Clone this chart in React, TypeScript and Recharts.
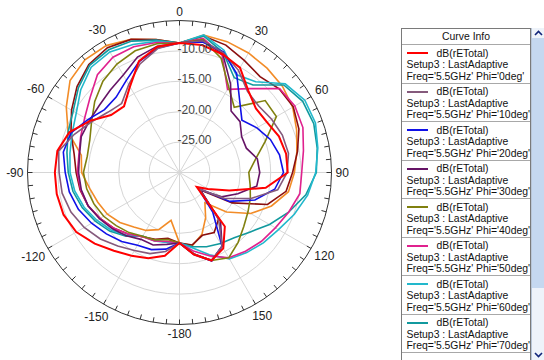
import { RadarChart, Radar, PolarGrid, PolarAngleAxis, PolarRadiusAxis } from "recharts";

// theta sweep (deg, clockwise from top), 10 deg steps
const thetaDeg = [
  0, 10, 20, 30, 40, 50, 60, 70, 80, 90, 100, 110, 120, 130, 140, 150, 160, 170,
  180, 190, 200, 210, 220, 230, 240, 250, 260, 270, 280, 290, 300, 310, 320, 330, 340, 350,
];

// dB(rETotal) per Phi cut
const phi0 = [
  -8.7, -8.7, -9.3, -10.1, -12.4, -13.6, -13.4, -12.6, -12.2, -12.2, -15.6, -21.3, -24.6, -26.3, -18.4, -15.6, -14.6, -16.3,
  -18.4, -16.1, -15.0, -14.2, -13.2, -11.8, -10.4, -9.7, -9.5, -9.5, -9.6, -10.7, -13.0, -15.3, -15.8, -13.7, -10.5, -9.0,
];
const phi10 = [
  -8.7, -8.0, -9.0, -10.6, -12.6, -13.0, -12.5, -12.0, -11.8, -12.3, -13.6, -17.5, -21.5, -25.8, -20.0, -16.0, -14.6, -16.4,
  -18.4, -16.8, -15.8, -15.2, -14.2, -13.0, -11.9, -11.0, -10.4, -10.2, -9.8, -11.6, -13.3, -14.6, -15.2, -13.3, -11.0, -9.3,
];
const phi20 = [
  -8.7, -8.2, -8.9, -11.2, -14.6, -16.6, -15.3, -14.1, -13.3, -12.9, -14.1, -16.8, -20.5, -26.0, -21.5, -16.0, -14.5, -16.3,
  -18.4, -17.2, -16.5, -16.2, -15.2, -14.3, -13.3, -12.3, -11.6, -11.2, -10.6, -11.0, -12.6, -13.9, -13.8, -12.5, -10.6, -9.2,
];
const phi30 = [
  -8.7, -8.0, -9.2, -13.2, -16.8, -17.0, -18.2, -18.3, -17.0, -16.8, -17.1, -19.8, -22.0, -25.5, -19.5, -16.0, -14.6, -16.4,
  -18.4, -18.0, -17.3, -17.3, -16.4, -15.6, -14.8, -14.0, -13.6, -13.4, -13.3, -12.8, -12.9, -12.8, -12.3, -11.5, -9.8, -8.9,
];
const phi40 = [
  -8.7, -7.8, -10.0, -13.8, -16.0, -11.6, -11.6, -15.0, -17.3, -18.6, -18.2, -17.6, -17.0, -16.2, -15.0, -13.8, -14.6, -16.4,
  -18.4, -18.8, -18.2, -17.9, -17.1, -16.4, -15.6, -15.0, -14.5, -14.2, -14.6, -14.3, -13.3, -11.8, -10.4, -9.4, -8.7, -8.5,
];
const phi50 = [
  -8.7, -7.6, -9.5, -14.2, -12.0, -8.5, -8.1, -8.4, -9.3, -9.9, -9.9, -10.9, -11.8, -12.4, -13.1, -13.8, -15.4, -16.9,
  -18.4, -18.5, -18.0, -17.8, -16.8, -15.8, -14.9, -14.0, -13.5, -13.2, -13.2, -12.7, -12.0, -10.8, -9.0, -8.1, -8.0, -8.3,
];
const phi60 = [
  -8.7, -7.0, -8.6, -11.4, -10.5, -7.3, -6.2, -6.2, -6.9, -7.6, -8.6, -9.9, -11.2, -12.0, -12.8, -13.6, -15.6, -17.4,
  -18.4, -18.3, -18.0, -17.9, -16.5, -15.3, -14.3, -13.3, -12.5, -12.0, -11.7, -11.2, -10.4, -8.8, -7.4, -7.1, -7.6, -8.1,
];
const phi70 = [
  -8.7, -7.2, -9.0, -12.0, -11.2, -7.6, -6.6, -6.5, -7.0, -7.5, -8.9, -10.9, -12.9, -14.8, -16.0, -16.5, -17.0, -17.6,
  -18.4, -18.4, -18.1, -17.9, -16.3, -15.0, -14.0, -13.0, -12.2, -11.7, -11.2, -10.5, -9.8, -8.3, -7.0, -6.7, -7.0, -7.9,
];
const phi80 = [
  -8.7, -7.2, -7.7, -8.7, -9.4, -8.6, -8.4, -9.1, -10.3, -11.4, -12.2, -14.6, -20.0, -25.5, -20.0, -18.6, -19.0, -17.9,
  -18.4, -19.0, -18.3, -17.8, -16.8, -15.8, -14.9, -14.0, -13.4, -13.0, -12.4, -11.0, -9.5, -8.0, -6.8, -6.3, -6.7, -7.8,
];
const phi90 = [
  -8.7, -7.05, -7.1, -7.3, -7.6, -7.9, -8.5, -9.5, -10.4, -11.1, -11.8, -13.9, -16.5, -19.9, -23.5, -21.4, -19.2, -17.8,
  -18.4, -22.0, -20.0, -19.0, -18.3, -17.2, -16.3, -15.7, -15.0, -13.9, -13.6, -10.5, -8.5, -6.5, -5.8, -5.9, -6.7, -7.8,
];

const radiusTicks = [-25, -20, -15, -10];
const spokeAngles = [90, 60, 30, 0, -30, -60, -90, -120, -150, -180, -210, -240];

// drawn back to front, red on top
const curves = [
  { key: "phi90", label: "Phi='90deg'", color: "#f28c28", values: phi90 },
  { key: "phi80", label: "Phi='80deg'", color: "#8b0f0f", values: phi80 },
  { key: "phi70", label: "Phi='70deg'", color: "#11999e", values: phi70 },
  { key: "phi60", label: "Phi='60deg'", color: "#22b8cc", values: phi60 },
  { key: "phi50", label: "Phi='50deg'", color: "#e0218e", values: phi50 },
  { key: "phi40", label: "Phi='40deg'", color: "#80800f", values: phi40 },
  { key: "phi30", label: "Phi='30deg'", color: "#661466", values: phi30 },
  { key: "phi20", label: "Phi='20deg'", color: "#1010e8", values: phi20 },
  { key: "phi10", label: "Phi='10deg'", color: "#855a7c", values: phi10 },
  { key: "phi0", label: "Phi='0deg'", color: "#ff0000", values: phi0 },
];

const legendKeys = ["phi0", "phi10", "phi20", "phi30", "phi40", "phi50", "phi60", "phi70"];

const rows = thetaDeg.map((t, i) => {
  const row: Record<string, number> = { theta: t };
  curves.forEach((c) => (row[c.key] = c.values[i]));
  return row;
});

const CX = 179.5;
const CY = 172.5;
const R = 152;
const FONT = '"Liberation Sans", Arial, sans-serif';

function angleLabel(v: number) {
  if (v === 180) return "-180";
  return String(v > 180 ? v - 360 : v);
}

function AngleTick(props: any) {
  const v = Number(props.payload.value);
  const a = props.payload.coordinate;
  const marks = [0, -5].map((d) => {
    const rad = ((a + d) * Math.PI) / 180;
    const ux = Math.cos(-rad);
    const uy = Math.sin(-rad);
    return (
      <line
        key={d}
        x1={CX + ux * R}
        y1={CY + uy * R}
        x2={CX + ux * (R - 5)}
        y2={CY + uy * (R - 5)}
        stroke="#333"
        strokeWidth={1}
      />
    );
  });
  let label = null;
  if (v % 30 === 0) {
    const txt = angleLabel(v);
    const w = txt.replace("-", "").length * 6.7 + (txt.startsWith("-") ? 4 : 0);
    const rad = (a * Math.PI) / 180;
    const ux = Math.cos(-rad);
    const uy = Math.sin(-rad);
    const rr = R + 4 + Math.abs(ux) * (w / 2) + Math.abs(uy) * 5;
    label = (
      <text
        x={CX + ux * rr}
        y={CY + uy * rr}
        textAnchor="middle"
        dominantBaseline="central"
        fontFamily={FONT}
        fontSize={12}
        fill="#222"
      >
        {txt}
      </text>
    );
  }
  return (
    <g>
      {marks}
      {label}
    </g>
  );
}

function RadiusTick(props: any) {
  const { x, y, payload } = props;
  return (
    <text
      x={x - 2}
      y={y - 2}
      textAnchor="start"
      dominantBaseline="central"
      fontFamily={FONT}
      fontSize={12}
      fill="#444"
    >
      {Number(payload.value).toFixed(2)}
    </text>
  );
}

function Arrow({ up }: { up: boolean }) {
  return (
    <svg width={9} height={6} style={{ display: "block", margin: "0 auto" }}>
      <polyline
        points={up ? "1,5 4.5,1.5 8,5" : "1,1 4.5,4.5 8,1"}
        fill="none"
        stroke="#10247a"
        strokeWidth={1.6}
      />
    </svg>
  );
}

export default function App() {
  const legendCurves = legendKeys.map((k) => curves.find((c) => c.key === k)!);
  return (
    <div style={{ position: "relative", width: 544, height: 360, overflow: "hidden", background: "#fff" }}>
      <style>{"body{margin:0}"}</style>
      <RadarChart
        width={395}
        height={360}
        data={rows}
        cx={CX}
        cy={CY}
        outerRadius={R}
        margin={{ top: 0, right: 0, bottom: 0, left: 0 }}
      >
        <PolarGrid gridType="circle" polarAngles={spokeAngles} stroke="#d6d6d6" />
        <PolarAngleAxis
          dataKey="theta"
          type="category"
          axisLineType="circle"
          axisLine={{ stroke: "#333", strokeWidth: 1 }}
          tickLine={false}
          tick={(p: any) => <AngleTick {...p} />}
        />
        <PolarRadiusAxis
          angle={90}
          type="number"
          domain={[-30, -5]}
          ticks={radiusTicks}
          axisLine={false}
          tickLine={false}
          tick={(p: any) => <RadiusTick {...p} />}
        />
        {curves.map((c) => (
          <Radar
            key={c.key}
            dataKey={c.key}
            stroke={c.color}
            strokeWidth={c.key === "phi0" ? 2 : 1.6}
            fill="none"
            fillOpacity={0}
            dot={false}
            isAnimationActive={false}
          />
        ))}
      </RadarChart>

      <div
        style={{
          position: "absolute",
          left: 401,
          top: 28,
          width: 130,
          height: 340,
          border: "1px solid #7a7a7a",
          borderBottom: "none",
          background: "#fff",
          fontFamily: FONT,
          fontSize: 10.4,
          color: "#111",
          boxSizing: "border-box",
        }}
      >
        <div style={{ height: 15, lineHeight: "15px", textAlign: "center", borderBottom: "1px solid #a8a8a8" }}>
          Curve Info
        </div>
        {legendCurves.map((c) => (
          <div
            key={c.key}
            style={{
              height: 35,
              borderBottom: "1px solid #a8a8a8",
              paddingTop: 2.5,
              paddingLeft: 4.5,
              boxSizing: "content-box",
              lineHeight: "11.7px",
              whiteSpace: "nowrap",
            }}
          >
            <div style={{ display: "flex", alignItems: "center" }}>
              <span style={{ display: "inline-block", width: 21, height: 2, background: c.color, marginRight: 9 }} />
              <span>dB(rETotal)</span>
            </div>
            <div>Setup3 : LastAdaptive</div>
            <div>Freq='5.5GHz' {c.label}</div>
          </div>
        ))}
      </div>

      <div
        style={{
          position: "absolute",
          left: 531,
          top: 28,
          width: 13,
          height: 332,
          background: "#eef3fa",
          borderLeft: "1px solid #b8c6d8",
          boxSizing: "border-box",
        }}
      >
        <div style={{ height: 9, paddingTop: 2 }}>
          <Arrow up />
        </div>
        <div style={{ position: "absolute", top: 10, left: 0, right: 0, height: 250, background: "#c5d8f0" }} />
        <div style={{ position: "absolute", bottom: 2, left: 0, right: 0 }}>
          <Arrow up={false} />
        </div>
      </div>
    </div>
  );
}
